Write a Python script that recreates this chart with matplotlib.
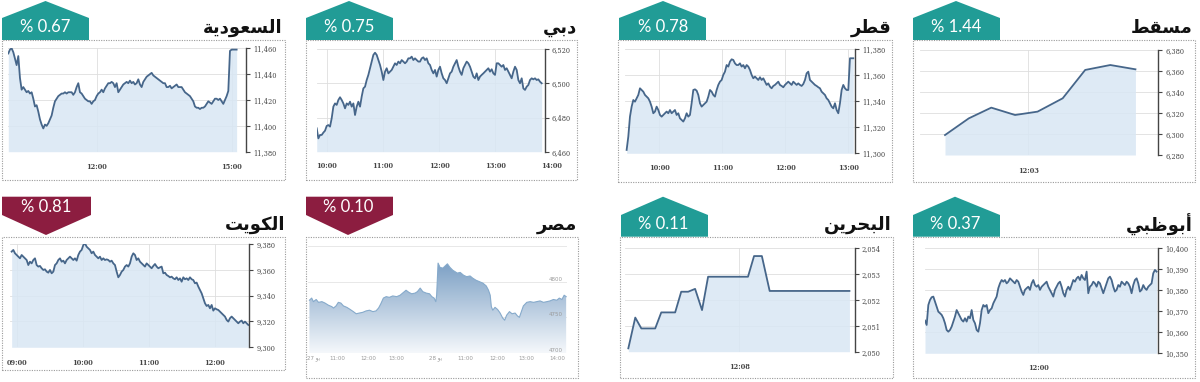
import numpy as np
import matplotlib
matplotlib.use("Agg")
import matplotlib.pyplot as plt
from matplotlib.colors import LinearSegmentedColormap
from matplotlib.patches import Polygon, Rectangle

# ---------------- data ----------------
# Arabic titles, written with presentation forms in visual order
# (matplotlib does no Arabic shaping itself)
titles = {
    "saudi": "\uFE94\uFEF3\uFEA9\uFEEE\uFECC\uFEB4\uFEDF\uFE8D",   # السعودية
    "dubai": "\uFEF2\uFE91\uFEA9",                                 # دبي
    "qatar": "\uFEAE\uFEC4\uFED7",                                 # قطر
    "muscat": "\uFEC2\uFED8\uFEB4\uFEE3",                          # مسقط
    "kuwait": "\uFE96\uFEF3\uFEEE\uFEDC\uFEDF\uFE8D",              # الكويت
    "egypt": "\uFEAE\uFEBC\uFEE3",                                 # مصر
    "bahrain": "\uFEE6\uFEF3\uFEAE\uFEA4\uFE92\uFEDF\uFE8D",       # البحرين
    "abudhabi": "\uFEF2\uFE92\uFEC7\uFEEE\uFE91\uFE83",            # أبوظبي
}
changes = {
    "saudi": "% 0.67", "dubai": "% 0.75", "qatar": "% 0.78", "muscat": "% 1.44",
    "kuwait": "% 0.81", "egypt": "% 0.10", "bahrain": "% 0.11", "abudhabi": "% 0.37",
}
rising = {"saudi": True, "dubai": True, "qatar": True, "muscat": True,
          "kuwait": False, "egypt": False, "bahrain": True, "abudhabi": True}

saudi_span = (10.037, 15.111)
saudi_values = [
    11456, 11459, 11460, 11457, 11452, 11447, 11454, 11437, 11428, 11430,
    11428, 11426, 11427, 11425, 11426, 11421, 11415, 11416, 11411, 11405,
    11401, 11398, 11401, 11400, 11402, 11405, 11408, 11414, 11419, 11421,
    11423, 11424, 11425, 11425, 11426, 11425, 11426, 11426, 11426, 11424,
    11426, 11430, 11433, 11426, 11425, 11423, 11421, 11420, 11419, 11419,
    11417, 11419, 11420, 11423, 11425, 11426, 11428, 11426, 11429, 11431,
    11433, 11433, 11434, 11433, 11430, 11433, 11426, 11428, 11430, 11432,
    11433, 11434, 11433, 11435, 11433, 11434, 11432, 11433, 11436, 11432,
    11430, 11434, 11436, 11438, 11439, 11440, 11441, 11439, 11438, 11437,
    11436, 11435, 11434, 11433, 11433, 11430, 11430, 11431, 11429, 11430,
    11431, 11432, 11430, 11430, 11430, 11428, 11426, 11425, 11424, 11423,
    11421, 11419, 11415, 11414, 11414, 11413, 11414, 11414, 11415, 11417,
    11419, 11418, 11417, 11419, 11421, 11421, 11420, 11421, 11419, 11417,
    11420, 11423, 11427, 11458, 11459, 11459, 11459, 11459]
saudi_yticks = [11380, 11400, 11420, 11440, 11460]
saudi_xticks = [12, 15]
saudi_xlabels = ["12:00", "15:00"]

dubai_span = (9.822, 13.822)
dubai_values = [
    6473.7, 6467.8, 6469.8, 6469.8, 6471.2, 6472.3, 6475.1, 6475.6, 6474.7, 6479.6,
    6486.4, 6488.3, 6487.4, 6490.3, 6491.9, 6490.3, 6488.3, 6485.4, 6488.3, 6487.4,
    6489.3, 6486.4, 6488.3, 6481.5, 6486.4, 6489.3, 6486.4, 6492.3, 6497.1, 6498.1,
    6502.0, 6505.0, 6508.9, 6512.8, 6516.7, 6518.0, 6516.7, 6513.7, 6510.8, 6506.9,
    6502.0, 6506.9, 6508.9, 6505.9, 6506.9, 6507.9, 6509.8, 6511.8, 6510.8, 6512.8,
    6511.8, 6513.7, 6512.8, 6511.8, 6512.8, 6514.7, 6514.7, 6515.7, 6513.7, 6514.7,
    6513.7, 6512.8, 6512.8, 6514.7, 6515.3, 6513.7, 6514.7, 6511.8, 6510.8, 6507.9,
    6505.9, 6507.9, 6504.0, 6507.9, 6509.8, 6505.9, 6503.0, 6502.0, 6500.1, 6503.0,
    6505.9, 6506.9, 6509.8, 6511.8, 6513.7, 6509.8, 6506.9, 6505.0, 6508.9, 6510.8,
    6512.8, 6511.8, 6509.8, 6506.9, 6504.0, 6503.0, 6505.9, 6502.0, 6504.0, 6505.0,
    6505.9, 6506.9, 6507.9, 6508.9, 6506.9, 6508.3, 6505.9, 6505.0, 6511.8, 6511.8,
    6510.8, 6509.8, 6510.8, 6507.9, 6508.9, 6506.9, 6505.0, 6503.0, 6506.9, 6509.8,
    6507.9, 6502.0, 6500.1, 6503.0, 6497.1, 6496.2, 6498.1, 6499.1, 6502.0, 6503.0,
    6502.4, 6503.0, 6502.0, 6502.4, 6501.0, 6500.1]
dubai_yticks = [6460, 6480, 6500, 6520]
dubai_xticks = [10, 11, 12, 13, 14]
dubai_xlabels = ["10:00", "11:00", "12:00", "13:00", "14:00"]

qatar_span = (9.481, 13.079)
qatar_values = [
    11302.6, 11312.8, 11328.2, 11335.9, 11341.0, 11339.7, 11342.3, 11344.9, 11350.0, 11348.7,
    11347.4, 11344.9, 11343.6, 11342.3, 11339.7, 11335.9, 11330.8, 11332.1, 11335.9, 11333.3,
    11329.5, 11328.2, 11329.5, 11330.8, 11332.1, 11330.8, 11333.3, 11330.8, 11332.1, 11333.3,
    11329.5, 11330.8, 11326.9, 11325.6, 11324.4, 11326.9, 11330.8, 11328.2, 11329.5, 11338.5,
    11348.7, 11349.2, 11348.2, 11344.9, 11338.5, 11335.9, 11337.2, 11338.5, 11339.7, 11343.6,
    11348.7, 11347.4, 11344.9, 11343.6, 11348.7, 11352.6, 11355.1, 11356.4, 11360.3, 11362.8,
    11367.9, 11366.7, 11370.5, 11372.3, 11371.8, 11369.2, 11367.9, 11367.9, 11369.2, 11366.7,
    11367.9, 11365.4, 11367.9, 11366.7, 11364.1, 11360.3, 11357.7, 11359.0, 11357.7, 11356.4,
    11358.5, 11356.4, 11357.7, 11355.1, 11352.6, 11353.8, 11351.3, 11350.0, 11351.8, 11352.6,
    11353.8, 11355.1, 11352.6, 11351.8, 11350.8, 11352.6, 11353.8, 11355.1, 11353.8, 11352.6,
    11355.1, 11353.8, 11352.6, 11353.8, 11352.6, 11351.8, 11353.3, 11356.4, 11361.5, 11362.8,
    11356.4, 11355.1, 11353.8, 11352.6, 11351.8, 11350.8, 11350.0, 11347.4, 11346.2, 11344.9,
    11342.3, 11341.0, 11338.5, 11335.9, 11334.6, 11338.5, 11333.3, 11330.8, 11338.5, 11348.7,
    11352.6, 11350.0, 11348.7, 11348.7, 11373.1, 11373.1, 11373.1]
qatar_yticks = [11300, 11320, 11340, 11360, 11380]
qatar_xticks = [10, 11, 12, 13]
qatar_xlabels = ["10:00", "11:00", "12:00", "13:00"]

muscat_times = ["11:00", "11:18", "11:35", "11:53", "12:10", "12:29", "12:46", "13:05", "13:24"]
muscat_values = [6299.0, 6314.9, 6325.1, 6318.1, 6321.3, 6334.0, 6361.0, 6365.7, 6361.6]
muscat_yticks = [6280, 6300, 6320, 6340, 6360, 6380]
muscat_xticks = ["12:03"]

kuwait_span = (8.924, 12.505)
kuwait_values = [
    9374.1, 9375.4, 9372.8, 9371.5, 9370.2, 9368.9, 9371.5, 9370.2, 9368.9, 9367.6,
    9363.7, 9366.3, 9365.0, 9367.6, 9368.9, 9363.7, 9362.5, 9363.0, 9361.2, 9359.9,
    9360.4, 9358.6, 9357.8, 9359.9, 9357.3, 9358.6, 9363.7, 9365.0, 9367.6, 9368.9,
    9366.3, 9367.1, 9365.0, 9367.6, 9368.9, 9370.2, 9368.9, 9367.6, 9368.9, 9367.1,
    9371.5, 9374.1, 9375.4, 9379.2, 9380.5, 9377.9, 9376.6, 9375.4, 9372.8, 9374.1,
    9371.5, 9370.2, 9368.9, 9370.2, 9367.6, 9368.9, 9367.6, 9368.1, 9367.6, 9366.3,
    9367.1, 9365.0, 9363.7, 9358.6, 9354.2, 9356.0, 9358.6, 9359.9, 9362.5, 9363.7,
    9362.5, 9365.0, 9370.2, 9372.8, 9371.5, 9367.6, 9368.9, 9366.3, 9365.0, 9363.7,
    9362.5, 9365.0, 9363.7, 9362.5, 9361.2, 9363.0, 9364.5, 9362.5, 9361.2, 9361.9,
    9362.5, 9357.3, 9357.8, 9356.0, 9355.2, 9354.2, 9354.7, 9353.4, 9352.7, 9354.2,
    9352.1, 9353.4, 9350.8, 9354.2, 9352.7, 9353.4, 9352.1, 9354.2, 9352.7, 9352.1,
    9349.6, 9350.1, 9347.0, 9344.4, 9341.8, 9337.9, 9334.1, 9332.0, 9332.8, 9330.2,
    9332.8, 9328.4, 9330.2, 9329.4, 9328.9, 9327.6, 9326.3, 9325.0, 9323.8, 9321.2,
    9319.9, 9322.5, 9323.8, 9322.5, 9321.2, 9319.9, 9318.6, 9319.9, 9320.7, 9318.6,
    9319.9, 9318.6, 9317.3]
kuwait_yticks = [9300, 9320, 9340, 9360, 9380]
kuwait_xticks = [9, 10, 11, 12]
kuwait_xlabels = ["09:00", "10:00", "11:00", "12:00"]

# Egypt: two sessions, x in trading hours since the first open
egypt_t = [
    0.00, 0.08, 0.14, 0.24, 0.32, 0.44, 0.55, 0.67, 0.79, 0.85,
    0.94, 1.02, 1.11, 1.20, 1.32, 1.44, 1.55, 1.65, 1.76, 1.88,
    2.00, 2.12, 2.24, 2.35, 2.44, 2.52, 2.61, 2.71, 2.82, 2.94,
    3.08, 3.20, 3.32, 3.41, 3.51, 3.61, 3.73, 3.81, 3.91, 4.00,
    4.12, 4.24, 4.32, 4.40, 4.46, 4.49, 4.54, 4.61, 4.71, 4.79,
    4.87, 4.96, 5.06, 5.14, 5.22, 5.32, 5.44, 5.55, 5.67, 5.76,
    5.88, 6.00, 6.12, 6.24, 6.32, 6.38, 6.42, 6.47, 6.55, 6.64,
    6.73, 6.82, 6.89, 6.96, 7.06, 7.15, 7.26, 7.34, 7.41, 7.48,
    7.55, 7.67, 7.79, 7.91, 8.02, 8.14, 8.26, 8.38, 8.49, 8.61,
    8.73, 8.82, 8.91, 8.99, 9.06]
egypt_values = [
    4774, 4777, 4772, 4775, 4771, 4772, 4770, 4767, 4765, 4763,
    4766, 4771, 4770, 4766, 4764, 4761, 4758, 4755, 4756, 4757,
    4759, 4760, 4758, 4759, 4763, 4769, 4777, 4779, 4778, 4780,
    4779, 4781, 4785, 4788, 4785, 4783, 4784, 4786, 4791, 4786,
    4784, 4783, 4779, 4777, 4772, 4781, 4826, 4820, 4819, 4822,
    4825, 4820, 4816, 4814, 4812, 4813, 4809, 4807, 4808, 4805,
    4802, 4800, 4798, 4794, 4788, 4781, 4765, 4760, 4764, 4761,
    4756, 4749, 4746, 4753, 4758, 4755, 4756, 4752, 4750, 4758,
    4766, 4771, 4772, 4771, 4772, 4773, 4771, 4772, 4773, 4775,
    4774, 4777, 4775, 4781, 4779]
egypt_yticks = [4700, 4750, 4800, 4850]
egypt_ylabels = {4700: "4700", 4750: "4750", 4800: "4800"}
egypt_xticks = [0.14, 1.0, 2.06, 3.08, 4.44, 5.49, 6.64, 7.67, 8.73]
egypt_xlabels = ["27 \uFEEE\uFEF3", "11:00", "12:00", "13:00", "28 \uFEEE\uFEF3",
                 "11:00", "12:00", "13:00", "14:00"]

bahrain_times = ["10:00", "10:08", "10:15", "10:31", "10:38", "10:54", "11:01", "11:09",
                 "11:17", "11:25", "11:32", "12:18", "12:25", "12:34", "12:43", "14:15"]
bahrain_values = [2050.13, 2051.32, 2050.90, 2050.90, 2051.52, 2051.52, 2052.32, 2052.32,
                  2052.43, 2051.61, 2052.90, 2052.90, 2053.70, 2053.70, 2052.35, 2052.35]
bahrain_yticks = [2050, 2051, 2052, 2053, 2054]
bahrain_xticks = ["12:08"]

abudhabi_span = (10.0, 14.088)
abudhabi_values = [
    10365.6, 10363.5, 10373.0, 10375.4, 10376.7, 10377.0, 10374.6, 10372.2, 10369.8, 10369.1,
    10368.3, 10366.7, 10364.3, 10361.1, 10360.3, 10361.1, 10362.7, 10365.1, 10367.5, 10370.6,
    10369.1, 10367.5, 10365.9, 10365.1, 10366.7, 10365.1, 10367.5, 10366.7, 10370.6, 10365.9,
    10364.3, 10361.1, 10360.3, 10364.3, 10370.6, 10373.0, 10372.2, 10373.0, 10369.1, 10370.6,
    10371.4, 10373.8, 10375.4, 10377.0, 10381.0, 10383.3, 10384.9, 10384.1, 10384.9, 10383.3,
    10384.1, 10385.7, 10384.9, 10384.1, 10383.3, 10384.9, 10384.1, 10381.7, 10379.4, 10377.8,
    10380.2, 10381.0, 10381.7, 10380.2, 10383.3, 10384.9, 10382.5, 10381.7, 10382.5, 10380.2,
    10381.7, 10382.5, 10383.3, 10384.1, 10381.7, 10380.2, 10378.6, 10377.0, 10380.2, 10381.7,
    10383.3, 10384.1, 10381.7, 10378.6, 10377.0, 10380.2, 10381.7, 10380.2, 10382.5, 10384.9,
    10384.1, 10385.7, 10386.5, 10384.9, 10387.3, 10385.7, 10384.9, 10388.9, 10378.6, 10381.7,
    10382.5, 10384.1, 10383.3, 10381.7, 10384.1, 10383.3, 10381.0, 10378.6, 10381.0, 10383.3,
    10385.7, 10386.5, 10384.9, 10381.7, 10379.4, 10380.2, 10382.5, 10381.7, 10384.1, 10383.3,
    10382.5, 10384.1, 10383.3, 10381.7, 10378.6, 10382.5, 10384.9, 10385.7, 10383.3, 10379.4,
    10380.2, 10382.5, 10381.0, 10380.2, 10381.7, 10382.5, 10383.3, 10388.1, 10389.7, 10388.9]
abudhabi_yticks = [10350, 10360, 10370, 10380, 10390, 10400]
abudhabi_xticks = [12]
abudhabi_xlabels = ["12:00"]

# ---------------- layout / style ----------------
W, H = 1200, 382
TEAL = "#219c96"
MAROON = "#8c1d40"
FILL = "#d9e7f4"
LINE = "#46668a"
TICK = "#454545"
SERIF = "DejaVu Serif"


def to_hours(s):
    h, m = s.split(":")
    return int(h) + int(m) / 60


def fx(x):
    return x / W


def fy(y):
    return 1 - y / H


def add_axes_px(fig, l, t, r, b):
    return fig.add_axes([fx(l), fy(b), (r - l) / W, (b - t) / H])


def draw_box(fig, l, t, r, b):
    fig.add_artist(Rectangle((fx(l), fy(b)), (r - l) / W, (b - t) / H,
                             transform=fig.transFigure, fill=False,
                             ec="#9a9a9a", lw=0.8, ls=(0, (1, 1.2))))


def draw_badge(fig, key, l, r, apex_x, top, mid, bottom, text_y):
    if rising[key]:
        pts = [(l, bottom), (l, mid), (apex_x, top), (r, mid), (r, bottom)]
        color = TEAL
    else:
        pts = [(l, top), (r, top), (r, mid), (apex_x, bottom), (l, mid)]
        color = MAROON
    fig.add_artist(Polygon([(fx(x), fy(y)) for x, y in pts], closed=True,
                           transform=fig.transFigure, fc=color, ec="none"))
    fig.text(fx(apex_x), fy(text_y), changes[key], color="white", fontsize=12,
             family="Lato", ha="center", va="center")


def draw_title(fig, key, x, y):
    fig.text(fx(x), fy(y), titles[key], fontsize=13, fontweight="bold",
             family=["DejaVu Sans"], ha="right", va="center", color="#111111")


def line_panel(fig, rect, hours, values, xlim, ylim, yticks, xticks, xlabels, label_y):
    l, t, r, b = rect
    ax = add_axes_px(fig, l, t, r, b)
    ax.set_xlim(xlim)
    ax.set_ylim(ylim)
    for side in ["top", "left", "bottom"]:
        ax.spines[side].set_visible(False)
    ax.spines["right"].set_color(TICK)
    ax.spines["right"].set_linewidth(1.0)
    ax.yaxis.tick_right()
    ax.set_yticks(yticks)
    ax.set_yticklabels([f"{v:,}" for v in yticks], fontsize=4.8, family=SERIF)
    ax.tick_params(axis="y", length=3, width=0.8, pad=2, colors=TICK)
    ax.set_xticks([x for x in xticks if xlim[0] <= x <= xlim[1]])
    ax.tick_params(axis="x", length=0, labelbottom=False)
    ax.grid(True, color="#dedede", lw=0.6)
    ax.set_axisbelow(True)
    ax.fill_between(hours, values, ylim[0], color=FILL, alpha=0.85, lw=0)
    ax.plot(hours, values, color=LINE, lw=1.3)
    yfrac = -(label_y - b) / (b - t)
    for xt, lab in zip(xticks, xlabels):
        ax.text(xt, yfrac, lab, transform=ax.get_xaxis_transform(), ha="center",
                va="center", fontsize=4.8, family=SERIF, color=TICK, fontweight="bold")
    return ax


def egypt_panel(fig, rect, label_y):
    l, t, r, b = rect
    ax = add_axes_px(fig, l, t, r, b)
    xlim = (-0.05, 9.09)
    ylim = (egypt_yticks[0], egypt_yticks[-1])
    ax.set_xlim(xlim)
    ax.set_ylim(ylim)
    for s in ax.spines.values():
        s.set_visible(False)
    ax.set_xticks([])
    ax.set_yticks([])
    for yv in egypt_yticks:
        ax.axhline(yv, color="#e4e4e4", lw=0.6, zorder=0)
    cmap = LinearSegmentedColormap.from_list("eg", ["#f5f8fb", "#6690bb"])
    grad = np.linspace(0, 1, 256).reshape(-1, 1)
    im = ax.imshow(grad, extent=[xlim[0], xlim[1], ylim[0], ylim[1]], origin="lower",
                   aspect="auto", cmap=cmap, zorder=1)
    poly = ax.fill_between(egypt_t, egypt_values, ylim[0], facecolor="none", lw=0)
    im.set_clip_path(poly.get_paths()[0], transform=ax.transData)
    ax.plot(egypt_t, egypt_values, color="#86aacb", lw=0.8, zorder=2)
    for yv, lab in egypt_ylabels.items():
        ax.text(0.985, yv, lab, transform=ax.get_yaxis_transform(), ha="right",
                va="bottom", fontsize=4, color="#9a9a9a", family=["DejaVu Sans"])
    yfrac = -(label_y - b) / (b - t)
    for xt, lab in zip(egypt_xticks, egypt_xlabels):
        ax.text(xt, yfrac, lab, transform=ax.get_xaxis_transform(), ha="center",
                va="center", fontsize=4, color="#9a9a9a", family=["DejaVu Sans"])
    return ax


def main():
    fig = plt.figure(figsize=(12, 3.82), dpi=100)

    # panel frames
    boxes = {
        "saudi": (2, 40, 285, 180), "dubai": (306, 40, 577, 180),
        "qatar": (618, 40, 892, 182), "muscat": (913, 40, 1195, 182),
        "kuwait": (2, 236.7, 285, 370), "egypt": (306, 236.7, 578, 378),
        "bahrain": (620, 236.7, 893, 378), "abudhabi": (913, 236.7, 1195, 378),
    }

    # top row
    line_panel(fig, (8.3, 48.3, 246, 151.7),
               np.linspace(*saudi_span, len(saudi_values)), saudi_values,
               (10.037, 15.319), (11380, 11460), saudi_yticks,
               saudi_xticks, saudi_xlabels, 167)
    line_panel(fig, (316.7, 49.3, 545, 151.7),
               np.linspace(*dubai_span, len(dubai_values)), dubai_values,
               (9.822, 13.881), (6460, 6520), dubai_yticks,
               dubai_xticks, dubai_xlabels, 166)
    line_panel(fig, (625, 49.3, 855, 153.3),
               np.linspace(*qatar_span, len(qatar_values)), qatar_values,
               (9.455, 13.106), (11300, 11380), qatar_yticks,
               qatar_xticks, qatar_xlabels, 168)
    line_panel(fig, (920, 50, 1158.3, 155),
               [to_hours(s) for s in muscat_times], muscat_values,
               (10.685, 13.688), (6280, 6380), muscat_yticks,
               [to_hours(s) for s in muscat_xticks], muscat_xticks, 171)

    # bottom row
    line_panel(fig, (10, 244, 249.3, 347.3),
               np.linspace(*kuwait_span, len(kuwait_values)), kuwait_values,
               (8.899, 12.52), (9300, 9380), kuwait_yticks,
               kuwait_xticks, kuwait_xlabels, 363)
    egypt_panel(fig, (308, 246, 567, 353), 358)
    line_panel(fig, (625, 248.3, 855, 351.7),
               [to_hours(s) for s in bahrain_times], bahrain_values,
               (9.936, 14.357), (2050, 2054), bahrain_yticks,
               [to_hours(s) for s in bahrain_xticks], bahrain_xticks, 367)
    line_panel(fig, (925, 248.3, 1158.3, 353.3),
               np.linspace(*abudhabi_span, len(abudhabi_values)), abudhabi_values,
               (10.0, 14.118), (10350, 10400), abudhabi_yticks,
               abudhabi_xticks, abudhabi_xlabels, 368)

    for box in boxes.values():
        draw_box(fig, *box)

    # badges: left, right, apex x, top, shoulder, bottom, text y
    draw_badge(fig, "saudi", 2, 89, 45.5, 1, 18, 40, 27)
    draw_badge(fig, "dubai", 306, 393, 349, 1, 18, 40, 27)
    draw_badge(fig, "qatar", 619, 706, 663, 1, 18, 40, 27)
    draw_badge(fig, "muscat", 913, 1000, 956, 1, 18, 40, 27)
    draw_badge(fig, "kuwait", 2, 91, 46, 196.7, 215, 235, 207)
    draw_badge(fig, "egypt", 306, 393, 348, 196.7, 215, 235, 207)
    draw_badge(fig, "bahrain", 621, 708, 663, 196.7, 215, 236.7, 224)
    draw_badge(fig, "abudhabi", 913, 1000, 955, 196.7, 215, 236.7, 224)

    # titles
    draw_title(fig, "saudi", 283, 28)
    draw_title(fig, "dubai", 577, 28)
    draw_title(fig, "qatar", 892, 28)
    draw_title(fig, "muscat", 1193, 28)
    draw_title(fig, "kuwait", 285, 225)
    draw_title(fig, "egypt", 577, 225)
    draw_title(fig, "bahrain", 892, 225)
    draw_title(fig, "abudhabi", 1193, 225)

    fig.savefig("out.png", dpi=100)


if __name__ == "__main__":
    main()
